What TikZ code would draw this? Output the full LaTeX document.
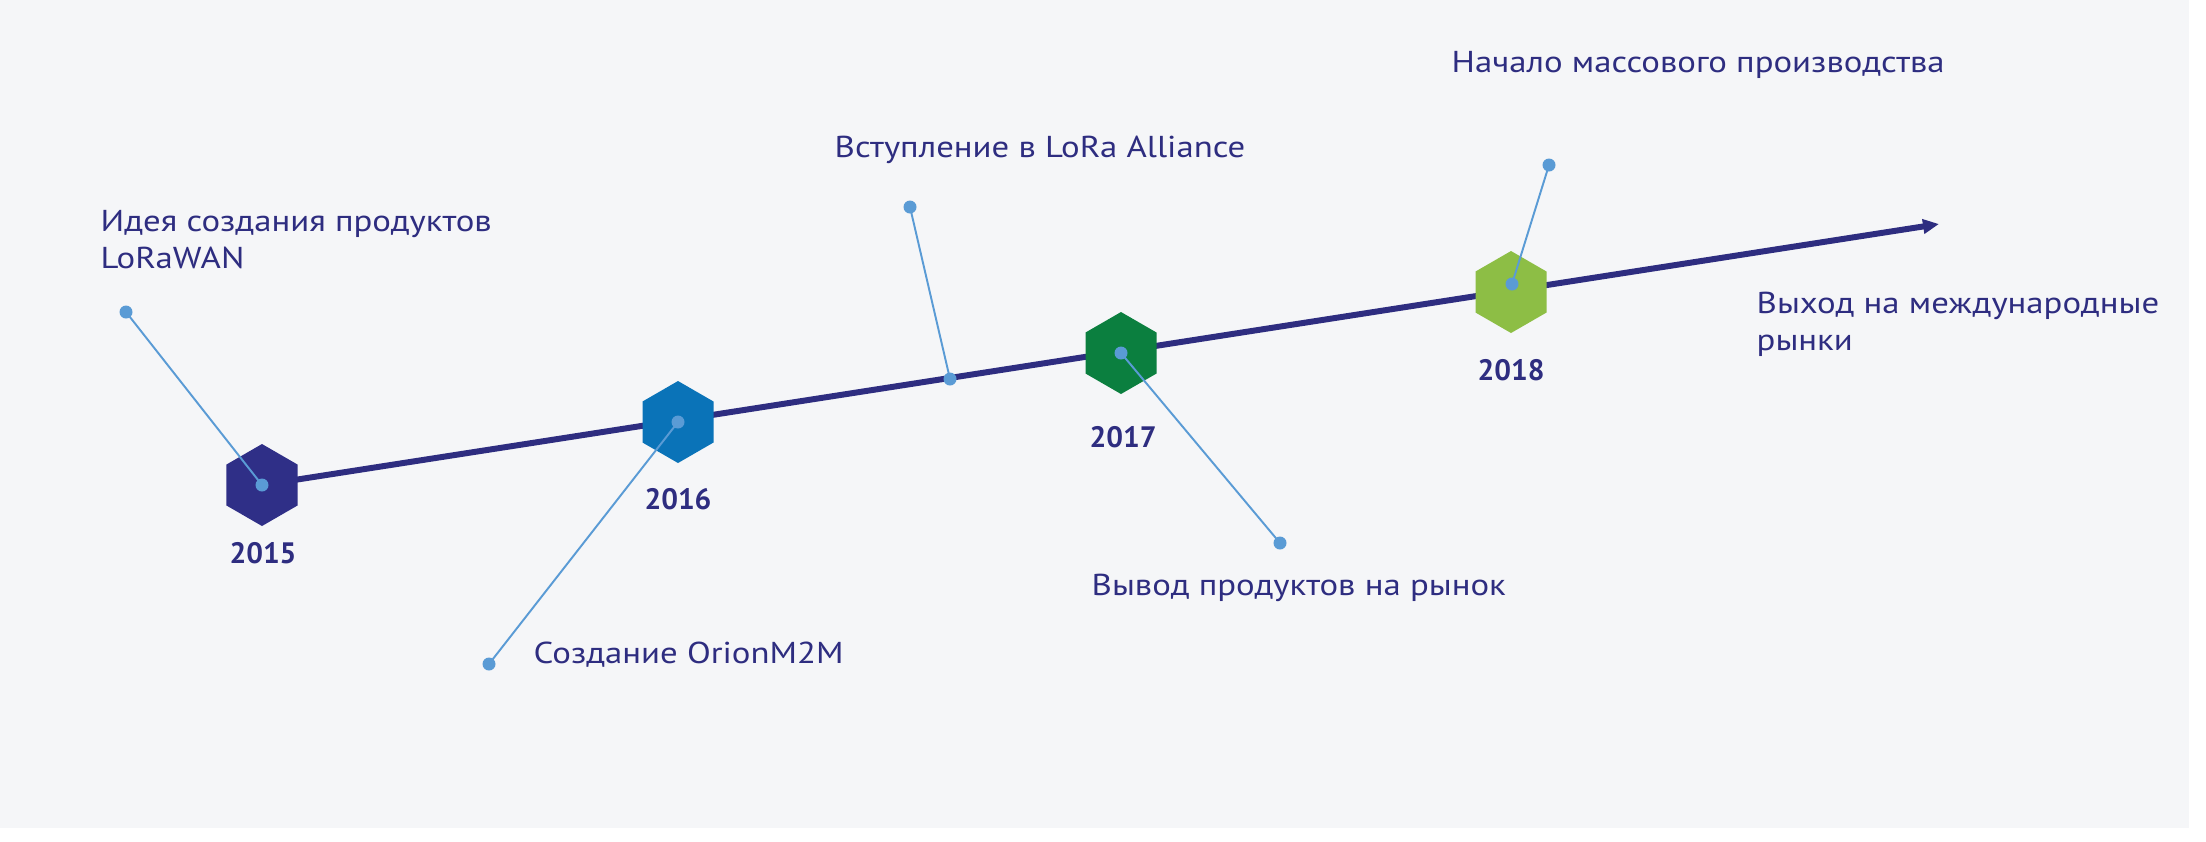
\documentclass[tikz,border=0pt]{standalone}
\usepackage{fontspec}
\setmainfont[FakeStretch=1.15]{PT Sans}
\newfontfamily\yearfont{PT Sans}
\usetikzlibrary{shapes.geometric,arrows.meta}
\definecolor{paper}{RGB}{245,246,248}
\definecolor{ink}{RGB}{46,45,128}
\definecolor{dotc}{RGB}{90,155,213}
\definecolor{hexA}{RGB}{47,47,135}
\definecolor{hexB}{RGB}{10,115,184}
\definecolor{hexC}{RGB}{11,127,63}
\definecolor{hexD}{RGB}{141,190,69}
\begin{document}
\begin{tikzpicture}[x=0.1mm,y=-0.1mm,
  hexa/.style={regular polygon,regular polygon sides=6,shape border rotate=30,minimum size=8.2mm,inner sep=0pt},
  year/.style={font=\yearfont\fontsize{8.4}{10}\selectfont\bfseries,text=ink,anchor=base},
  note/.style={font=\fontsize{8.6}{10.5}\selectfont,text=ink,inner sep=0pt,align=left,anchor=base west},
  lead/.style={draw=dotc,line width=0.55pt},
  dot/.style={circle,fill=dotc,inner sep=0pt,minimum size=1.3mm}]
\useasboundingbox (0,0) rectangle (2206,841);
\fill[white] (0,0) rectangle (2206,841);
\fill[paper] (0,0) rectangle (2189,828);
% timeline
\coordinate (c15) at (262,485);
\coordinate (c16) at (678,422);
\coordinate (c17) at (1121,353);
\coordinate (c18) at (1511,292);
\coordinate (tip) at (1939,224);
\draw[ink,line width=1.7pt,-{Triangle[length=1.6mm,width=1.4mm]}] (c15) -- (tip);
\node[hexa,fill=hexA] (y15) at (c15) {};
\node[hexa,fill=hexB] (y16) at (c16) {};
\node[hexa,fill=hexC] (y17) at (c17) {};
\node[hexa,fill=hexD] (y18) at (c18) {};
\node[year] at (263,563) {2015};
\node[year] at (678,509) {2016};
\node[year] at (1123,447) {2017};
\node[year] at (1511,380) {2018};
% leads
\coordinate (a15) at (126,312);
\coordinate (a16) at (489,664);
\coordinate (b17) at (950,379);
\coordinate (a17) at (910,207);
\coordinate (d17) at (1280,543);
\coordinate (h18) at (1512,284);
\coordinate (a18) at (1549,165);
\draw[lead] (a15) -- (c15);
\draw[lead] (a16) -- (c16);
\draw[lead] (a17) -- (b17);
\draw[lead] (d17) -- (c17);
\draw[lead] (a18) -- (h18);
\foreach \p in {a15,c15,a16,c16,a17,b17,d17,c17,a18,h18}
  \node[dot] at (\p) {};
% texts (base = last line)
\node[note] (t15) at (100,268) {Идея создания продуктов\\LoRaWAN};
\node[note] (t16) at (533,663) {Создание OrionM2M};
\node[note] (t17a) at (834,157) {Вступление в LoRa Alliance};
\node[note] (t17b) at (1091,595) {Вывод продуктов на рынок};
\node[note] (t18a) at (1451,72) {Начало массового производства};
\node[note] (t18b) at (1756,350) {Выход на международные\\рынки};
\end{tikzpicture}
\end{document}
